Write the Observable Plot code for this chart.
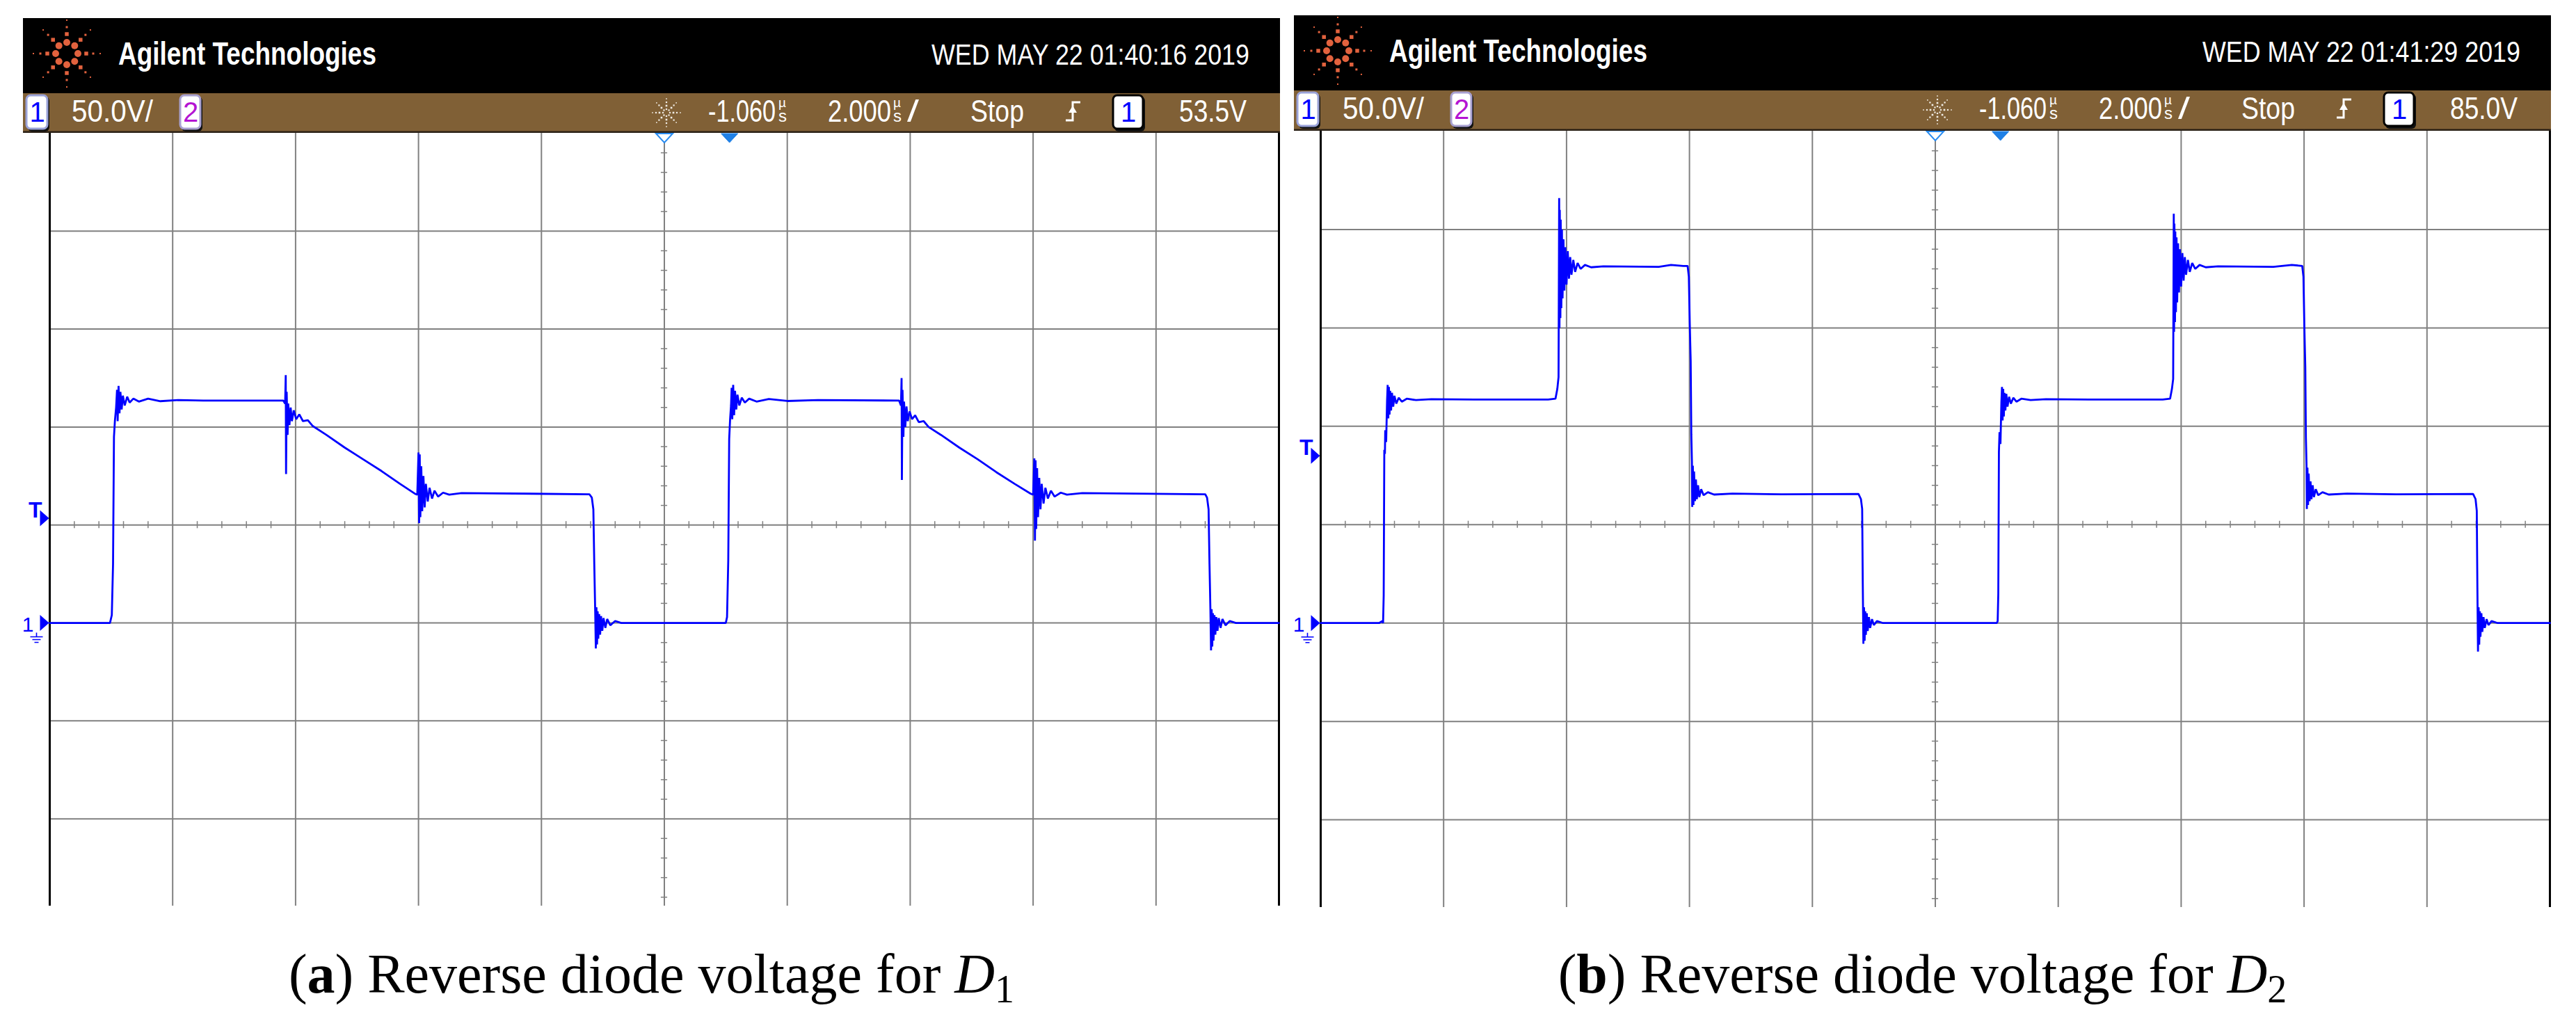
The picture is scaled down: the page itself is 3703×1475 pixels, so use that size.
<!DOCTYPE html>
<html><head><meta charset="utf-8">
<script src="https://cdn.jsdelivr.net/npm/d3@7"></script>
<script src="https://cdn.jsdelivr.net/npm/@observablehq/plot@0.6"></script>
<style>
html,body{margin:0;padding:0;background:#fff;}
#root{position:relative;width:3703px;height:1475px;overflow:hidden;background:#fff;}
#decor{position:absolute;left:0;top:0;}
.panel{position:absolute;}
</style></head><body><div id="root"></div>
<script>
// ---------------- DATA ----------------
// time in µs relative to screen centre, voltage in V (ground = 0)
const traceA = [
[-10,0],[-9.02,0],[-8.99,4],[-8.97,30],[-8.955,95],[-8.94,103],[-8.92,110],[-8.905,119],[-8.895,103],[-8.88,121],
[-8.865,107],[-8.85,118],[-8.83,109],[-8.81,116],[-8.78,111],[-8.74,115.5],[-8.70,112.5],[-8.64,114.5],[-8.55,113],[-8.4,114.5],
[-8.2,113.2],[-7.9,113.8],[-7.5,113.5],[-6.20,113.5],[-6.17,112],[-6.16,126.5],[-6.155,76],[-6.145,118],[-6.13,96],[-6.12,112],
[-6.10,101],[-6.08,110],[-6.06,103],[-6.03,108.5],[-5.99,104],[-5.94,106.5],[-5.88,103],[-5.80,103.5],[-5.72,100.5],[-5.5,96],
[-5.2,89.5],[-4.9,83.5],[-4.6,77.5],[-4.3,71],[-4.06,66],[-4.02,65.5],[-4.00,87],[-3.99,51],[-3.98,86],[-3.97,54],
[-3.955,80],[-3.94,57],[-3.92,75],[-3.90,59],[-3.88,71],[-3.85,62],[-3.82,69],[-3.78,63.5],[-3.74,67.5],[-3.68,64.5],
[-3.6,66.5],[-3.5,65.5],[-3.3,66.3],[-1.22,65.7],[-1.18,64],[-1.155,58],[-1.14,30],[-1.125,6],[-1.115,-13],[-1.105,8],
[-1.095,-11],[-1.085,6],[-1.075,-8],[-1.06,4.5],[-1.045,-6],[-1.03,3.5],[-1.01,-4],[-0.99,2.5],[-0.96,-2.5],[-0.93,2],
[-0.88,-1.2],[-0.8,1],[-0.7,0],[0.98,0],
[1.00,0],[1.02,3],[1.04,32],[1.055,94],[1.07,104],[1.085,111],[1.095,120],[1.105,104],[1.12,121.5],[1.135,106],
[1.15,118.5],[1.17,109],[1.19,116.5],[1.22,111],[1.26,115],[1.31,112.5],[1.38,114.5],[1.5,113],[1.7,114.3],[2.0,113.3],
[2.5,113.8],[3.82,113.5],[3.85,111],[3.86,125],[3.865,73],[3.875,119],[3.89,95],[3.90,113],[3.92,100],[3.94,110.5],
[3.96,103],[3.99,108],[4.03,104],[4.08,106],[4.14,102.5],[4.22,103],[4.30,100],[4.5,96],[4.8,89.5],[5.1,83.5],
[5.4,77],[5.7,71],[5.96,66],[6.00,65.5],[6.02,84],[6.03,42],[6.04,83],[6.05,48],[6.065,79],[6.08,54],
[6.10,74],[6.12,58],[6.14,71],[6.17,61],[6.20,69],[6.24,63.5],[6.29,67.5],[6.35,64.5],[6.45,66.5],[6.55,65.5],
[6.8,66.3],[8.80,65.7],[8.83,64],[8.855,58],[8.87,30],[8.885,6],[8.895,-14],[8.905,7],[8.915,-12],[8.925,5],
[8.935,-9],[8.95,4],[8.965,-6],[8.98,3],[9.0,-4],[9.02,2.5],[9.05,-2.5],[9.08,2],[9.13,-1.2],[9.2,1],
[9.3,0],[10,0]
];
const traceB = [
[-10,0],[-9.05,0],[-9.0,1],[-8.985,0],[-8.975,14],[-8.965,88],[-8.955,86],[-8.95,98],[-8.935,92],[-8.92,113],
[-8.91,121],[-8.90,104],[-8.89,120],[-8.88,106],[-8.87,118],[-8.855,108],[-8.84,117],[-8.82,110],[-8.80,115.5],[-8.77,111.5],
[-8.73,114.5],[-8.68,112.5],[-8.6,114],[-8.45,113.3],[-8.2,113.8],[-7.5,113.6],[-6.30,113.6],[-6.18,114],[-6.15,119],[-6.13,125],
[-6.12,216],[-6.115,150],[-6.11,210],[-6.10,155],[-6.095,205],[-6.085,160],[-6.075,200],[-6.065,165],[-6.05,195],[-6.035,169],
[-6.02,191],[-6.0,172],[-5.98,189],[-5.96,175],[-5.94,186],[-5.92,177],[-5.89,184.5],[-5.86,178.5],[-5.82,183],[-5.77,180],
[-5.70,182],[-5.6,180.8],[-5.4,181.3],[-4.5,181],[-4.3,182],[-4.1,181.5],[-4.03,181.5],[-4.01,176],[-3.995,152],[-3.98,133],
[-3.97,96],[-3.96,82],[-3.955,59],[-3.945,80],[-3.935,60],[-3.925,77],[-3.91,62],[-3.895,73],[-3.88,63],[-3.86,70],
[-3.84,64],[-3.81,68],[-3.77,65],[-3.7,66.5],[-3.6,65.3],[-3.3,65.8],[-2.5,65.4],[-1.25,65.6],[-1.21,63],[-1.19,58],
[-1.18,20],[-1.17,-10.5],[-1.16,8],[-1.15,-9],[-1.14,6],[-1.13,-6],[-1.115,5],[-1.10,-4],[-1.08,3],[-1.06,-2.5],
[-1.03,2],[-1.0,-1],[-0.95,1],[-0.85,0],[0.98,0],
[1.0,0],[1.015,1],[1.025,15],[1.035,87],[1.045,97],[1.06,91],[1.075,112],[1.085,120],[1.095,103],[1.105,119],
[1.115,105],[1.125,117],[1.14,108],[1.155,116.5],[1.175,110],[1.20,115],[1.23,111.5],[1.27,114.5],[1.32,112.5],[1.4,114],
[1.55,113.3],[1.8,113.8],[2.5,113.6],[3.70,113.6],[3.82,114],[3.85,119],[3.87,124],[3.88,208],[3.885,148],[3.89,203],
[3.90,153],[3.905,199],[3.915,158],[3.925,196],[3.935,163],[3.95,193],[3.965,168],[3.98,190],[4.0,171],[4.02,188],
[4.04,174],[4.06,186],[4.08,177],[4.11,184.5],[4.14,178.5],[4.18,183],[4.23,180],[4.30,182],[4.4,180.8],[4.6,181.3],
[5.5,181],[5.8,182],[5.97,181.5],[5.99,176],[6.005,150],[6.02,130],[6.03,94],[6.04,80],[6.045,58],[6.055,79],
[6.065,60],[6.075,76],[6.09,62],[6.105,72],[6.12,63],[6.14,70],[6.16,64],[6.19,68],[6.23,65],[6.3,66.5],
[6.4,65.3],[6.7,65.8],[7.5,65.4],[8.75,65.6],[8.79,63],[8.81,57],[8.82,18],[8.83,-14.5],[8.84,8],[8.85,-11],
[8.86,6],[8.87,-7],[8.885,5],[8.90,-4.5],[8.92,3],[8.94,-2.5],[8.97,2],[9.0,-1],[9.05,1],[9.15,0],
[10,0]
];
const timeDomain = [-10, 10];          // 10 div x 2.000 µs
const voltDomain = [-144.5, 250];      // 50.0 V/div, bottom row cut by the screen
const gridTimes = [-8, -6, -4, -2, 0, 2, 4, 6, 8];
const gridVolts = [-100, -50, 0, 50, 100, 150, 200];
const centerTime = 0, centerVolt = 50;
const delayMarker = [1.06];
const triggerLevels = [53.5, 85.0];
const triggerLabels = ["53.5V", "85.0V"];
const dates = ["WED MAY 22 01:40:16 2019", "WED MAY 22 01:41:29 2019"];
const brand = "Agilent Technologies";
const voltsPerDiv = "50.0V/";
const delayLabel = "-1.060";
const timePerDiv = "2.000";
const runState = "Stop";
const captionLetters = ["a", "b"];
const captionText = "Reverse diode voltage for";
const diodeSubs = ["1", "2"];

// ---------------- LAYOUT ----------------
const panels = [
  {hx: 33, hy: 26, gridTop: 191, gridBottom: 1302},
  {hx: 1860, hy: 22, gridTop: 188, gridBottom: 1304}
];
const HW = 1807;
const BLUE = "#0000ff", GRID = "#808080", BROWN = "#806036", ORANGE = "#e2623e";
const SANS = "'Liberation Sans', Arial, sans-serif";

const root = d3.select("#root");
const svg = root.append("svg").attr("id", "decor").attr("width", 3703).attr("height", 1475);

// text squeezed horizontally to [x0, x1] with a transform (narrow scope font look)
function txt(g, s, x0, x1, base, size, o = {}) {
  const t = g.append("text").attr("font-size", size)
    .attr("fill", o.fill || "#fff").attr("font-family", o.font || SANS)
    .attr("font-weight", o.weight || "normal").text(s);
  if (o.anchor) t.attr("text-anchor", o.anchor);
  if (x1 != null) {
    const w = t.node().getComputedTextLength();
    const sx = w > 0 ? (x1 - x0) / w : 1;
    t.attr("transform", `translate(${x0},${base}) scale(${sx.toFixed(4)},1)`);
  } else {
    t.attr("x", x0).attr("y", base);
  }
  return t;
}
// stacked "µ over s" unit, one text element
function unitStack(g, x, base) {
  const t = g.append("text").attr("fill", "#fff").attr("font-family", SANS);
  t.append("tspan").attr("x", x + 1).attr("y", base - 21).attr("font-size", 19).text("µ");
  t.append("tspan").attr("x", x + 1).attr("y", base).attr("font-size", 24).text("s");
  return t;
}
function starburst(g, cx, cy, rings, color) {
  for (let k = 0; k < 8; k++) {
    const a = k * Math.PI / 4;
    rings.forEach(r => {
      const x = cx + r.r * Math.sin(a), y = cy - r.r * Math.cos(a);
      if (r.circle) g.append("circle").attr("cx", x).attr("cy", y).attr("r", r.s / 2).attr("fill", color);
      else g.append("rect").attr("x", x - r.s / 2).attr("y", y - r.s / 2).attr("width", r.s).attr("height", r.s).attr("fill", color);
    });
  }
}
function chanBox(g, x0, x1, label, color, border) {
  g.append("rect").attr("x", x0 + 2).attr("y", 113).attr("width", x1 - x0).attr("height", 50).attr("rx", 6).attr("fill", "#111");
  g.append("rect").attr("x", x0).attr("y", 111).attr("width", x1 - x0 - 1).attr("height", 48).attr("rx", 6)
    .attr("fill", "#fff").attr("stroke", border).attr("stroke-width", 3);
  txt(g, label, (x0 + x1) / 2, null, 149, 40, {fill: color, anchor: "middle"});
}

panels.forEach((p, i) => {
  const g = svg.append("g").attr("transform", `translate(${p.hx},${p.hy})`);
  const hb = p.gridTop - p.hy;
  g.append("rect").attr("width", HW).attr("height", 108).attr("fill", "#000");
  g.append("rect").attr("y", 108).attr("width", HW).attr("height", hb - 108).attr("fill", BROWN);
  g.append("rect").attr("y", hb - 2.5).attr("width", HW).attr("height", 2.5).attr("fill", "#2a2016");
  // logo
  starburst(g, 63, 51, [{r: 16, s: 10, circle: true}, {r: 28, s: 5.5}, {r: 38, s: 3}, {r: 48, s: 2}], ORANGE);
  txt(g, brand, 137, 508, 67, 46, {weight: "bold"});
  txt(g, dates[i], 1306, 1763, 67, 43);
  // status bar
  chanBox(g, 5, 36, "1", BLUE, "#9aa2d8");
  txt(g, voltsPerDiv, 70, 187, 149, 44);
  chanBox(g, 226, 256, "2", "#b414d2", "#a8a0d0");
  starburst(g, 925, 136, [{r: 5, s: 2.2}, {r: 10, s: 2.6}, {r: 15, s: 2.2}, {r: 20, s: 1.6}], "#f0ece4");
  txt(g, delayLabel, 985, 1082, 149, 44);
  unitStack(g, 1085, 149);
  txt(g, timePerDiv, 1157, 1248, 149, 44);
  unitStack(g, 1250, 149);
  txt(g, "/", 1271, 1288, 149, 44);
  txt(g, runState, 1362, 1439, 149, 44);
  g.append("path").attr("d", "M1499,147 H1509 V121 H1520").attr("fill", "none").attr("stroke", "#fff").attr("stroke-width", 3);
  g.append("path").attr("d", "M1503,136 L1509,126 L1515,136 Z").attr("fill", "#fff");
  chanBox(g, 1567, 1611, "1", BLUE, "#000");
  txt(g, triggerLabels[i], 1662, 1759, 149, 44);

  // caption
  const cap = svg.append("text").attr("x", p.hx + HW / 2).attr("y", 1427).attr("text-anchor", "middle")
    .attr("font-family", "'Liberation Serif', 'DejaVu Serif', serif").attr("font-size", 80).attr("fill", "#000")
    .style("white-space", "pre");
  cap.append("tspan").text("(");
  cap.append("tspan").attr("font-weight", "bold").text(captionLetters[i]);
  cap.append("tspan").text(") " + captionText + " ");
  cap.append("tspan").attr("font-style", "italic").text("D");
  cap.append("tspan").attr("font-size", 56).attr("dy", 14).text(diodeSubs[i]);
});

// ---------------- PLOT ----------------
const triDown = {draw(ctx) { ctx.moveTo(-12, -6.5); ctx.lineTo(12, -6.5); ctx.lineTo(0, 6.5); ctx.closePath(); }};
const triRight = {draw(ctx) { ctx.moveTo(-13, -11.5); ctx.lineTo(0, 0); ctx.lineTo(-13, 11.5); ctx.closePath(); }};
const groundSym = {draw(ctx) {
  ctx.moveTo(0, -5); ctx.lineTo(0, 1);
  ctx.moveTo(-9, 1); ctx.lineTo(9, 1);
  ctx.moveTo(-6, 5); ctx.lineTo(6, 5);
  ctx.moveTo(-3, 9); ctx.lineTo(3, 9);
}};
const isMajor = (v, step) => Math.abs(v / step - Math.round(v / step)) < 1e-6;
const minorTimes = d3.range(timeDomain[0], timeDomain[1] + 1e-9, 0.4).filter(t => !isMajor(t, 2));
const minorVolts = d3.range(-150, voltDomain[1] + 1e-9, 10).filter(v => v >= voltDomain[0] && !isMajor(v, 50));

function scopePlot(trace, trig, p) {
  return Plot.plot({
    width: 1810, height: p.gridBottom - p.gridTop,
    marginLeft: 38, marginRight: 5, marginTop: 0, marginBottom: 0,
    x: {domain: timeDomain, axis: null},
    y: {domain: voltDomain, axis: null},
    style: {background: "white", overflow: "visible", fontFamily: SANS},
    marks: [
      Plot.ruleY(gridVolts, {stroke: GRID, strokeWidth: 2}),
      Plot.ruleX(gridTimes, {stroke: GRID, strokeWidth: 2}),
      Plot.ruleX(minorTimes, {x: d => d, y1: centerVolt - 1.8, y2: centerVolt + 1.8, stroke: GRID, strokeWidth: 1.5}),
      Plot.ruleY(minorVolts, {y: d => d, x1: centerTime - 0.052, x2: centerTime + 0.052, stroke: GRID, strokeWidth: 1.5}),
      Plot.ruleX(timeDomain, {stroke: "#000", strokeWidth: 3}),
      Plot.line(trace, {x: d => d[0], y: d => d[1], stroke: BLUE, strokeWidth: 2.8, strokeLinejoin: "miter"}),
      Plot.dot([centerTime], {x: d => d, y: () => voltDomain[1], dy: 7, symbol: triDown, fill: "white", stroke: "#2a8cf0", strokeWidth: 2}),
      Plot.dot(delayMarker, {x: d => d, y: () => voltDomain[1], dy: 7, symbol: triDown, fill: "#1f80e6", stroke: "#1f80e6", strokeWidth: 1}),
      Plot.dot([trig], {x: () => timeDomain[0], y: d => d, dx: -1, symbol: triRight, fill: BLUE, stroke: "none"}),
      Plot.text([trig], {x: () => timeDomain[0], y: d => d, text: () => "T", dx: -11, dy: -1, textAnchor: "end", lineAnchor: "bottom", fontSize: 32, fontWeight: "bold", fill: BLUE}),
      Plot.dot([0], {x: () => timeDomain[0], y: d => d, dx: -1, symbol: triRight, fill: BLUE, stroke: "none"}),
      Plot.text([0], {x: () => timeDomain[0], y: d => d, text: () => "1", dx: -23, dy: 12, textAnchor: "end", lineAnchor: "bottom", fontSize: 30, fill: BLUE}),
      Plot.dot([0], {x: () => timeDomain[0], y: d => d, dx: -19, dy: 19, symbol: groundSym, fill: "none", stroke: BLUE, strokeWidth: 1.6})
    ]
  });
}

panels.forEach((p, i) => {
  const div = root.append("div").attr("class", "panel")
    .style("left", p.hx + "px").style("top", p.gridTop + "px").style("width", "1810px");
  div.node().appendChild(scopePlot(i === 0 ? traceA : traceB, triggerLevels[i], p));
});
</script>
</body></html>
